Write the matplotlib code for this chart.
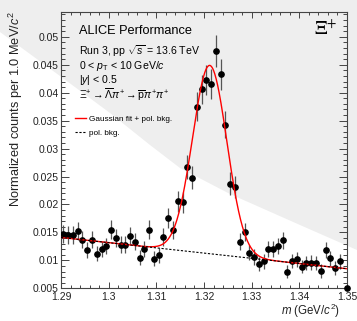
import numpy as np
import matplotlib.pyplot as plt
from matplotlib.ticker import MultipleLocator, FuncFormatter

plt.rcParams['font.family'] = 'Liberation Sans'
plt.rcParams['mathtext.fontset'] = 'custom'
plt.rcParams['mathtext.rm'] = 'Liberation Sans'
plt.rcParams['mathtext.it'] = 'Liberation Sans:italic'
plt.rcParams['mathtext.bf'] = 'Liberation Sans:bold'

# === DATA ===
# invariant-mass histogram, 1 MeV bins starting at 1.29 GeV/c^2
m_lo = 1.29
bin_w = 0.001
counts = [0.0148, 0.0145, 0.0145, 0.0152, 0.0137, 0.0118, 0.0137, 0.0112, 0.0120, 0.0126,
          0.0155, 0.0140, 0.0128, 0.0128, 0.0144, 0.0133, 0.0105, 0.0121, 0.0155, 0.0103,
          0.0109, 0.0142, 0.0176, 0.0154, 0.0206, 0.0204, 0.0267, 0.0248, 0.0375, 0.0406,
          0.0423, 0.0415, 0.0474, 0.0433, 0.0343, 0.0237, 0.0231, 0.0133, 0.0150, 0.0114,
          0.0106, 0.0093, 0.0098, 0.0121, 0.0121, 0.0126, 0.0136, 0.0080, 0.0099, 0.0102,
          0.0089, 0.0095, 0.0096, 0.0095, 0.0081, 0.0118, 0.0104, 0.0086, 0.0098]
errors = [0.00161, 0.00159, 0.00159, 0.00163, 0.00154, 0.00143, 0.00154, 0.00140, 0.00145, 0.00148,
          0.00164, 0.00156, 0.00149, 0.00149, 0.00158, 0.00152, 0.00135, 0.00145, 0.00164, 0.00134,
          0.00138, 0.00157, 0.00175, 0.00164, 0.00189, 0.00189, 0.00216, 0.00208, 0.00256, 0.00266,
          0.00272, 0.00269, 0.00287, 0.00275, 0.00244, 0.00203, 0.00201, 0.00152, 0.00162, 0.00141,
          0.00136, 0.00127, 0.00131, 0.00145, 0.00145, 0.00148, 0.00154, 0.00118, 0.00131, 0.00133,
          0.00124, 0.00129, 0.00129, 0.00129, 0.00119, 0.00143, 0.00135, 0.00122, 0.00131]
# last bin sits on the lower-right corner of the frame
edge_m = [1.35]
edge_counts = [0.005]

# fit result: gaussian + pol1 background
gaus_amp = 0.0337
gaus_mean = 1.3212
gaus_sigma = 0.0036
bkg_p0 = 0.0141    # value at m = 1.29
bkg_p1 = -0.0933   # slope per GeV/c^2

m_centers = m_lo + bin_w * (np.arange(len(counts)) + 0.5)

# === FIGURE ===
fig = plt.figure(figsize=(3.57, 3.21), dpi=100)

# watermark-style background swoosh
bg = fig.add_axes([0, 0, 1, 1], zorder=-1)
bg.set_xlim(0, 357)
bg.set_ylim(321, 0)
bg.axis('off')
bg.fill_between([0, 357], [0, 0], [321, 321], color='#eeeeee', lw=0)
arc_x = [0, 60, 110, 150, 180, 230, 300, 357]
arc_y = [32, 76, 113, 145, 168, 194, 225, 250]
bg.fill_between(arc_x, arc_y, 321, color='white', lw=0)

ax = fig.add_axes([61 / 357, 32.7 / 321, 286 / 357, 276.6 / 321])
ax.set_facecolor('none')
ax.set_xlim(1.29, 1.35)
ax.set_ylim(0.005, 0.0545)

# fit curves
mm = np.linspace(1.29, 1.35, 600)
bkg = bkg_p0 + bkg_p1 * (mm - 1.29)
total = bkg + gaus_amp * np.exp(-0.5 * ((mm - gaus_mean) / gaus_sigma) ** 2)

ax.errorbar(m_centers, counts, yerr=errors, fmt='o', color='black', ms=3.8,
            ecolor='#555555', elinewidth=0.9, capsize=0, zorder=3)
ax.plot(edge_m, edge_counts, 'o', color='black', ms=3.8, clip_on=False, zorder=3)
ax.plot(mm, total, color='red', lw=1.0, zorder=4, label='Gaussian fit + pol. bkg.')
ax.plot(mm, bkg, color='black', lw=0.8, ls=(0, (2, 1.5)), zorder=5, label='pol. bkg.')

# axes style
ax.xaxis.set_major_locator(MultipleLocator(0.01))
ax.xaxis.set_minor_locator(MultipleLocator(0.002))
ax.yaxis.set_major_locator(MultipleLocator(0.005))
ax.yaxis.set_minor_locator(MultipleLocator(0.001))
fmt = FuncFormatter(lambda v, p: f'{v:g}')
ax.xaxis.set_major_formatter(fmt)
ax.yaxis.set_major_formatter(fmt)
ax.tick_params(which='both', direction='in', top=True, right=True,
               color='#444444', labelcolor='#222222', labelsize=7.5, width=0.7)
ax.tick_params(axis='x', which='major', length=4.3, pad=2.5)
ax.tick_params(axis='x', which='minor', length=2.3)
ax.tick_params(axis='y', which='major', length=5.8, pad=1.7)
ax.tick_params(axis='y', which='minor', length=2.9)
for s in ax.spines.values():
    s.set_color('#444444')
    s.set_linewidth(0.8)

ax.set_ylabel(r'Normalized counts per 1.0 MeV/$c^{2}$', fontsize=9.2, loc='top', color='#222222')
ax.yaxis.set_label_coords(-0.125, 1.0)
ax.set_xlabel(r'$m$ (GeV/$c^{2}$)', fontsize=8.3, loc='right', color='#222222')
ax.xaxis.set_label_coords(0.975, -0.05)

# labels
tx = 0.063
ax.text(tx, 0.931, 'ALICE Performance', fontsize=9.2, va='center', transform=ax.transAxes)
ax.text(tx, 0.859, r'Run 3, pp $\sqrt{s}$ = 13.6 TeV', fontsize=7.6, va='center', transform=ax.transAxes)
ax.text(tx, 0.805, r'0 < $p_{\mathrm{T}}$ < 10 GeV/$c$', fontsize=7.6, va='center', transform=ax.transAxes)
ax.text(tx, 0.753, r'|$y$| < 0.5', fontsize=7.6, va='center', transform=ax.transAxes)
ax.text(tx, 0.699, r'$\Xi^{+} \rightarrow \overline{\Lambda}\pi^{+} \rightarrow \overline{\mathrm{p}}\pi^{+}\pi^{+}$',
        fontsize=7.6, va='center', transform=ax.transAxes)
ax.text(0.925, 0.935, r'$\Xi^{+}$', fontsize=14, ha='center', va='center',
        math_fontfamily='stix', transform=ax.transAxes)

ax.legend(loc='upper left', bbox_to_anchor=(0.05, 0.627), frameon=False, fontsize=5.9,
          handlelength=1.3, handletextpad=0.35, labelspacing=0.85, borderpad=0, borderaxespad=0)

fig.savefig('out.png', dpi=100)
